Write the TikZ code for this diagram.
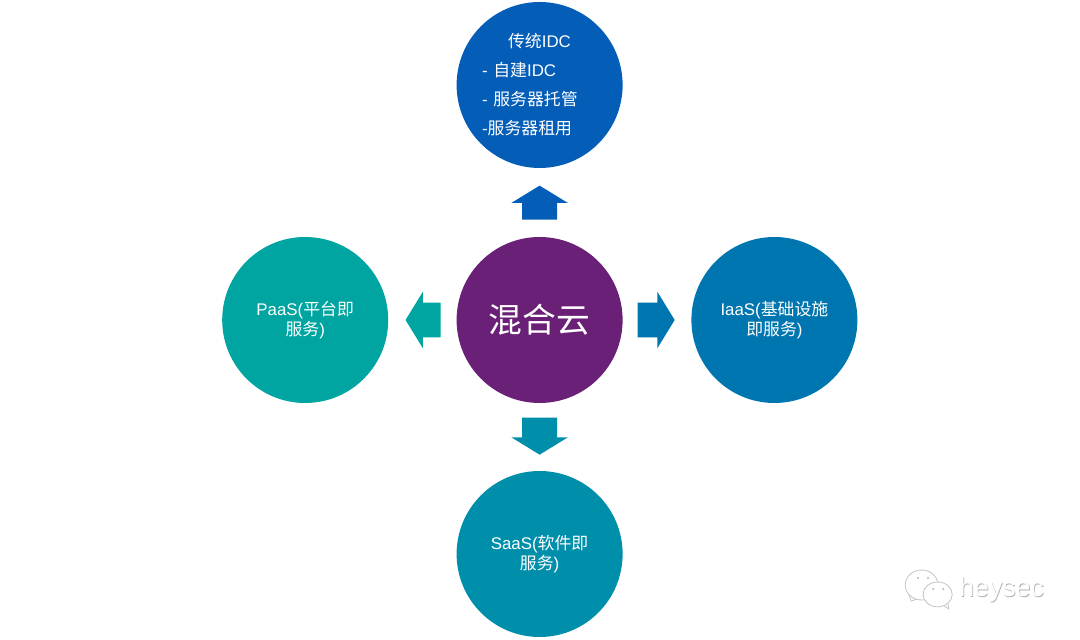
\documentclass[tikz,border=0pt]{standalone}
\usepackage{fontspec}
\setmainfont{Liberation Sans}
\newfontfamily\cjk{Noto Sans CJK SC}
\usetikzlibrary{shapes.arrows}
\usetikzlibrary{shapes.geometric}
\definecolor{hybridc}{HTML}{6B2077}
\definecolor{idcc}{HTML}{045DB7}
\definecolor{iaasc}{HTML}{0076B0}
\definecolor{paasc}{HTML}{00A4A0}
\definecolor{saasc}{HTML}{008FAB}
\tikzset{
    mycircle/.style = {circle, minimum size=4.15cm, inner sep=0pt, align=center, text=white, font=\fontsize{12}{14.4}\selectfont},
    myarrow/.style = {single arrow, inner xsep=0pt, inner ysep=0.43cm, single arrow head extend=0.27cm, single arrow tip angle=117},
    bubble/.style = {draw=gray!45, fill=white, line width=0.6pt},
    eye/.style = {fill=gray!55, circle, inner sep=0.6pt}
}
\begin{document}
\begin{tikzpicture}
\useasboundingbox (0,0) rectangle (27,16);
% circles
\node[mycircle, fill=hybridc, font=\fontsize{24}{28}\selectfont] at (13.49, 8.00) (hybrid) {\cjk 混合云};
\node[mycircle, fill=idcc, text width=2.875cm, align=left, font=\fontsize{12}{20.6}\selectfont] at (13.49,13.875) (idc)
  {\hspace*{18.5pt}{\cjk 传统}IDC\\- {\cjk 自建}IDC\\- {\cjk 服务器托管}\\-{\cjk 服务器租用}};
\node[mycircle, fill=paasc] at ( 7.63, 8.00) (paas) {PaaS({\cjk 平台即}\\{\cjk 服务})};
\node[mycircle, fill=iaasc] at (19.36, 8.00) (iaas) {IaaS({\cjk 基础设施}\\{\cjk 即服务})};
\node[mycircle, fill=saasc] at (13.49, 2.15) (saas) {SaaS({\cjk 软件即}\\{\cjk 服务})};
% arrows
\node[myarrow, fill=idcc, minimum height=0.85cm, rotate=90] at (13.49,10.80) (toidc) {};
\node[myarrow, fill=paasc, minimum height=0.875cm, rotate=180] at (10.71, 8.00) (topaas) {};
\node[myarrow, fill=iaasc, minimum height=0.925cm] at (16.27, 8.00) (toiaas) {};
\node[myarrow, fill=saasc, minimum height=0.925cm, rotate=-90] at (13.49, 5.23) (tosaas) {};
% watermark
\draw[bubble] (22.73,1.125) -- (22.78,0.975) -- (23.00,1.05) -- cycle;
\node[bubble, ellipse, minimum width=0.82cm, minimum height=0.75cm, inner sep=0pt] at (23.04,1.375) (bubblea) {};
\node[eye] at (22.95,1.55) (eyea) {};
\node[eye] at (23.20,1.55) (eyeb) {};
\draw[bubble] (23.53,0.90) -- (23.72,0.775) -- (23.68,1.00) -- cycle;
\node[bubble, ellipse, minimum width=0.73cm, minimum height=0.62cm, inner sep=0pt] at (23.44,1.14) (bubbleb) {};
\node[eye] at (23.33,1.275) (eyec) {};
\node[eye] at (23.58,1.275) (eyed) {};
\node[text=gray!60, font=\fontsize{19}{22}\selectfont, inner sep=0pt] at (25.06,1.23) (markshadow) {heysec};
\node[text=white, font=\fontsize{19}{22}\selectfont, inner sep=0pt] at (25.04,1.25) (mark) {heysec};
\end{tikzpicture}
\end{document}
